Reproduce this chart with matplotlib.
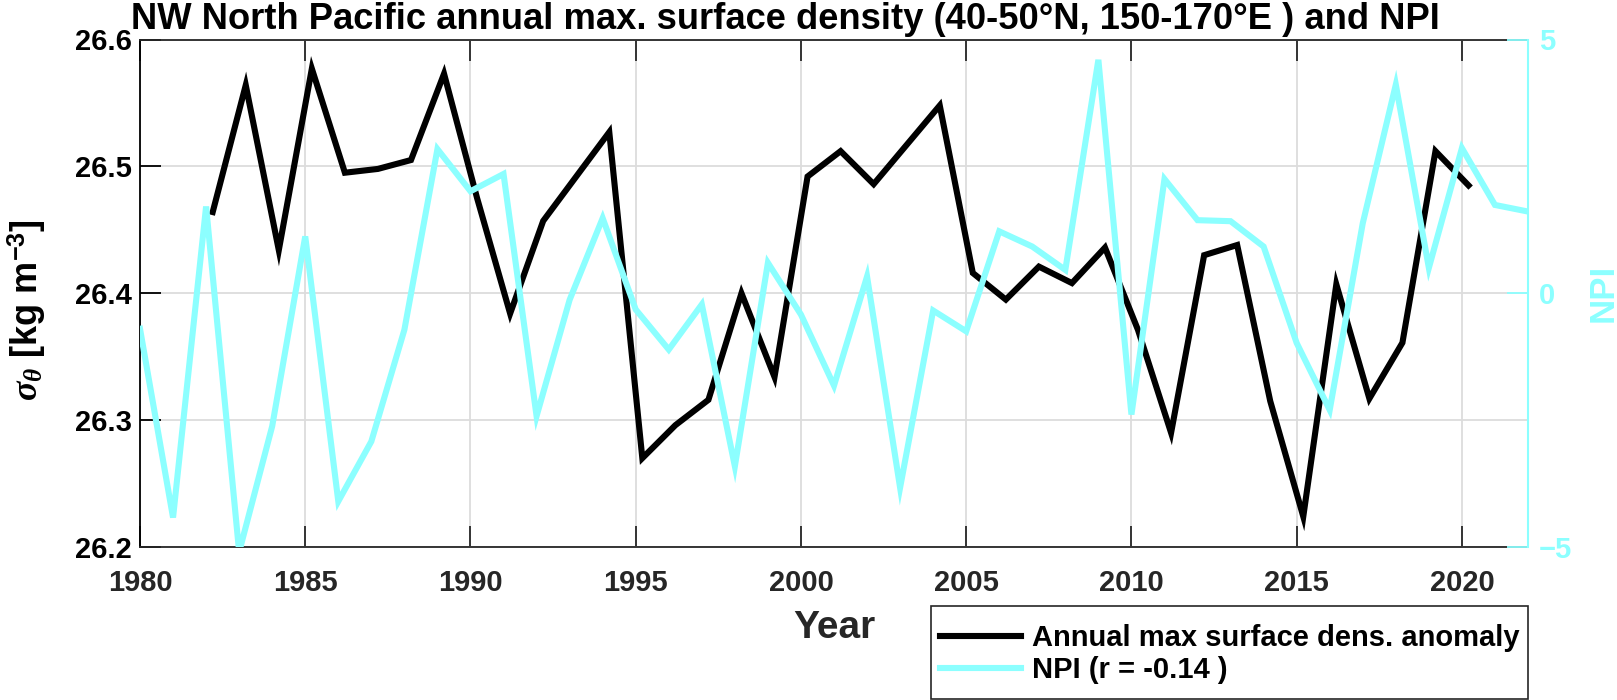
import numpy as np
import matplotlib
matplotlib.use("Agg")
import matplotlib.pyplot as plt
from matplotlib.lines import Line2D
from matplotlib.patches import Rectangle

# ---------------- data ----------------
dens_years = np.arange(1982, 2021)
dens_offset = 0.2  # annual max occurs early in the year
dens_values = [26.464, 26.564, 26.434, 26.577, 26.495, 26.498, 26.505, 26.573,
               26.475, 26.384, 26.457, 26.492, 26.527, 26.270, 26.296, 26.316,
               26.400, 26.334, 26.492, 26.512, 26.486, 26.517, 26.548, 26.416,
               26.395, 26.421, 26.408, 26.436, 26.371, 26.290, 26.430, 26.438,
               26.315, 26.224, 26.407, 26.317, 26.361, 26.512, 26.485]

npi_years = np.arange(1980, 2023)
npi_values = [-0.70, -4.42, 1.71, -5.10, -2.62, 1.12, -4.10, -2.92, -0.72, 2.84,
              2.01, 2.35, -2.42, -0.13, 1.48, -0.32, -1.11, -0.22, -3.41, 0.60,
              -0.42, -1.82, 0.33, -3.83, -0.34, -0.75, 1.22, 0.92, 0.46, 4.60,
              -2.39, 2.25, 1.44, 1.42, 0.92, -0.98, -2.30, 1.38, 4.11, 0.50,
              2.86, 1.74, 1.61]

x_ticks = [1980, 1985, 1990, 1995, 2000, 2005, 2010, 2015, 2020]
left_ticks = [26.2, 26.3, 26.4, 26.5, 26.6]
right_ticks = [-5, 0, 5]

title = "NW North Pacific annual max. surface density (40-50\u00b0N, 150-170\u00b0E ) and NPI"
label_dens = "Annual max surface dens. anomaly"
label_npi = "NPI (r = -0.14 )"

# ---------------- style ----------------
plt.rcParams['font.family'] = ['Liberation Sans', 'DejaVu Sans']
plt.rcParams['font.weight'] = 'bold'
plt.rcParams['mathtext.fontset'] = 'custom'
plt.rcParams['mathtext.rm'] = 'Liberation Sans:bold'
plt.rcParams['mathtext.bf'] = 'Liberation Sans:bold'
plt.rcParams['mathtext.it'] = 'Liberation Serif:italic'

CYAN = '#8CFFFF'
DARK = '#262626'
W, H = 1617, 700

fig = plt.figure(figsize=(W / 100, H / 100), dpi=100)
ax = fig.add_axes([140 / W, 1 - 547 / H, 1388 / W, 507.5 / H])
ax2 = ax.twinx()

ax.plot(dens_years + dens_offset, dens_values, color='black', lw=4.4,
        solid_joinstyle='miter', zorder=3)
ax2.plot(npi_years, npi_values, color=CYAN, lw=4.4, solid_joinstyle='miter',
         zorder=3)

ax.set_xlim(1980, 2022)
ax.set_ylim(26.2, 26.6)
ax2.set_ylim(-5, 5)
ax.set_xticks(x_ticks)
ax.set_yticks(left_ticks)
ax.set_yticklabels([f"{v:.1f}" for v in left_ticks])
ax2.set_yticks(right_ticks)

ax.grid(True, color='#dcdcdc', lw=1.3, zorder=0)
ax.set_axisbelow(True)

ax.tick_params(axis='x', direction='in', length=15, width=1.3, top=True,
               bottom=True, color=DARK, labelcolor=DARK, labelsize=21, pad=16)
ax.tick_params(axis='y', direction='in', length=15, width=1.3, left=True,
               right=False, color='black', labelcolor='black', labelsize=21,
               pad=6)
ax2.tick_params(axis='y', direction='in', length=15, width=1.3, color=CYAN,
                labelcolor=CYAN, labelsize=21, pad=8)

for s in ['top', 'bottom']:
    ax.spines[s].set_color(DARK)
    ax.spines[s].set_linewidth(1.3)
ax.spines['left'].set_color('black')
ax.spines['left'].set_linewidth(1.3)
ax.spines['right'].set_visible(False)
for s in ['top', 'bottom', 'left']:
    ax2.spines[s].set_visible(False)
ax2.spines['right'].set_color(CYAN)
ax2.spines['right'].set_linewidth(1.5)

ax.set_xlabel("Year", fontsize=28, fontweight='bold', color=DARK, labelpad=9)
ax.set_ylabel(r"$\sigma_{\theta}$ [kg m$^{\mathbf{-3}}$]", fontsize=26,
              fontweight='bold', color='black', labelpad=19)
ax.yaxis.label.set_y(0.467)
ax2.set_ylabel("NPI", fontsize=25, fontweight='bold', color=CYAN, labelpad=10)

fig.text(785 / W, 1 - 29 / H, title, fontsize=26.2, fontweight='bold',
         color='black', ha='center', va='baseline')

handles = [Line2D([], [], color='black', lw=4.4),
           Line2D([], [], color=CYAN, lw=4.4)]
leg = fig.legend(handles, [label_dens, label_npi], loc='lower right',
                 bbox_to_anchor=(1528 / W, 7 / H), fontsize=21, frameon=False,
                 borderaxespad=0, handlelength=2.8, handletextpad=0.35,
                 labelspacing=0.15, borderpad=0.3)
for t in leg.get_texts():
    t.set_color('black')

# legend box (taller padding than matplotlib's uniform borderpad)
fig.canvas.draw()
bb = leg.get_window_extent().transformed(fig.transFigure.inverted())
box_top = 1 - 606 / H
box_bottom = 1 / H
fig.add_artist(Rectangle((bb.x0, box_bottom), 1528 / W - bb.x0,
                         box_top - box_bottom, transform=fig.transFigure,
                         fill=False, edgecolor=DARK, lw=1.2))

fig.savefig("out.png", dpi=100, facecolor='white')
